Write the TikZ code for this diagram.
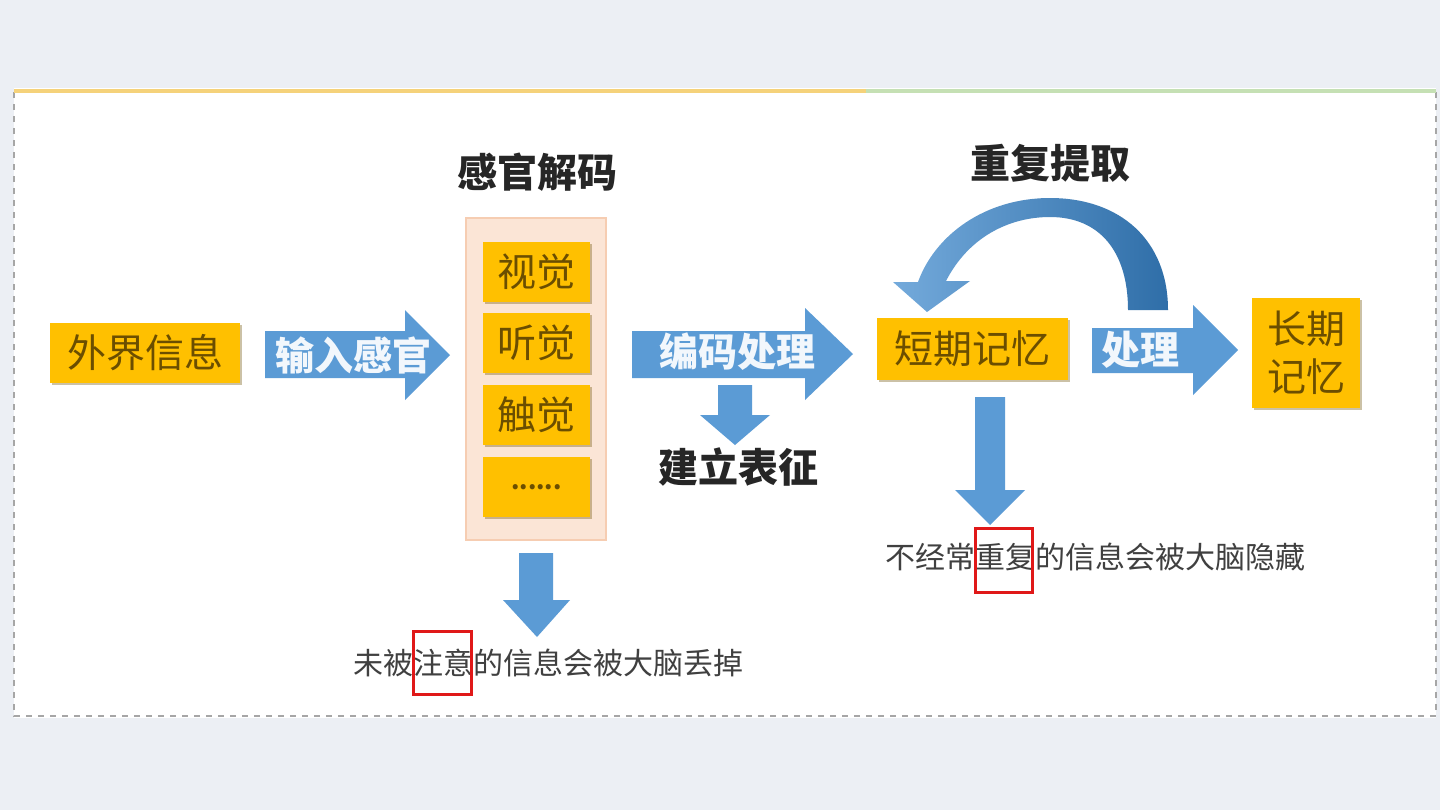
\documentclass[tikz,border=0pt]{standalone}
\usepackage{fontspec}
\setmainfont{Noto Sans CJK SC}
\usetikzlibrary{shadows}
\definecolor{boxorange}{HTML}{FFC000}
\definecolor{boxtext}{HTML}{6B4E00}
\definecolor{arrowblue}{HTML}{5B9BD5}
\definecolor{arrowdark}{HTML}{2F6EA8}
\definecolor{panelpink}{HTML}{FBE5D6}
\definecolor{panelline}{HTML}{F6CDB2}
\definecolor{titletext}{HTML}{262626}
\definecolor{notetext}{HTML}{404040}
\definecolor{markred}{HTML}{E01818}
\definecolor{pagebg}{HTML}{ECEFF4}
\tikzset{
  stagebox/.style={fill=boxorange, text=boxtext, inner sep=0pt,
    font=\fontsize{19.5}{24}\selectfont,
    drop shadow={shadow xshift=0.8pt, shadow yshift=-1.2pt, opacity=0.35, fill=boxtext}},
  sensebox/.style={stagebox, minimum width=53.5pt, minimum height=30pt},
  arrowtext/.style={text=white!92!arrowblue, font=\bfseries\fontsize{19.5}{24}\selectfont},
  titletxt/.style={text=titletext, font=\bfseries\fontsize{20}{24}\selectfont},
  notetxt/.style={text=notetext, font=\fontsize{15}{18}\selectfont},
  markbox/.style={draw=markred, line width=1.5pt}
}
\begin{document}
\begin{tikzpicture}[x=0.5pt, y=-0.5pt]
\useasboundingbox (0,0) rectangle (1440,810);
\fill[pagebg] (0,0) rectangle (1440,810);
% white panel with coloured top rule
\fill[white] (14,88) rectangle (1436,718);
\draw[gray!70, dashed, line width=0.8pt] (14,92) -- (14,716) -- (1436,716) -- (1436,92);
\draw[line width=2pt, color={rgb,255:red,245;green,210;blue,122}] (14,91) -- (866,91);
\draw[line width=2pt, color={rgb,255:red,197;green,224;blue,180}] (866,91) -- (1436,91);

% outside information
\node[stagebox, minimum width=95pt, minimum height=30pt] (ext) at (145,353) {外界信息};

% input arrow
\fill[arrowblue] (265,331) -- (405,331) -- (405,310) -- (450,355) -- (405,400) -- (405,378) -- (265,378) -- cycle;
\node[arrowtext] (inlbl) at (353,355) {输入感官};

% sensory decoding
\node[titletxt] (decode) at (537,172) {感官解码};
\fill[panelpink, draw=panelline, line width=0.6pt] (466,218) rectangle (606,540);
\node[sensebox] (vis) at (536.5,272) {视觉};
\node[sensebox] (aud) at (536.5,343) {听觉};
\node[sensebox] (tac) at (536.5,415) {触觉};
\node[sensebox, font=\bfseries\fontsize{12}{12}\selectfont] (more) at (536.5,487) {......};

% dropped information
\fill[arrowblue] (519,553) -- (553,553) -- (553,600) -- (570,600) -- (537,637) -- (503,600) -- (519,600) -- cycle;
\node[notetxt] (droplbl) at (548,663) {未被注意的信息会被大脑丢掉};
\draw[markbox] (413,631) rectangle (471,694);

% encoding arrow
\fill[arrowblue] (632,331) -- (805,331) -- (805,308) -- (853,354) -- (805,400) -- (805,378) -- (632,378) -- cycle;
\node[arrowtext] (enclbl) at (737,352) {编码处理};
\fill[arrowblue] (718,385) -- (752,385) -- (752,415) -- (770,415) -- (735,445) -- (700,415) -- (718,415) -- cycle;
\node[titletxt] (repr) at (738,467) {建立表征};

% short term memory
\node[stagebox, minimum width=95.5pt, minimum height=31pt] (stm) at (972.5,349) {短期记忆};

% repeated retrieval loop
\node[titletxt] (retrieve) at (1050,163) {重复提取};
\shade[left color=arrowblue!85!white, right color=arrowdark]
  (1168,310) .. controls (1168,240) and (1120,198) .. (1050,198)
  .. controls (985,198) and (935,235) .. (918,282)
  -- (893,282) -- (927,312) -- (970,281) -- (946,281)
  .. controls (968,238) and (1008,217) .. (1050,217)
  .. controls (1100,217) and (1128,252) .. (1128,310) -- cycle;

% hidden information
\fill[arrowblue] (975,397) -- (1005,397) -- (1005,490) -- (1025,490) -- (990,525) -- (955,490) -- (975,490) -- cycle;
\node[notetxt] (hidelbl) at (1095,557) {不经常重复的信息会被大脑隐藏};
\draw[markbox] (975,528) rectangle (1032,592);

% processing arrow
\fill[arrowblue] (1092,328) -- (1193,328) -- (1193,305) -- (1238,350) -- (1193,395) -- (1193,373) -- (1092,373) -- cycle;
\node[arrowtext] (proclbl) at (1140,350) {处理};

% long term memory
\node[stagebox, minimum width=54pt, minimum height=55pt, align=center] (ltm) at (1306,353) {长期\\记忆};
\end{tikzpicture}
\end{document}
